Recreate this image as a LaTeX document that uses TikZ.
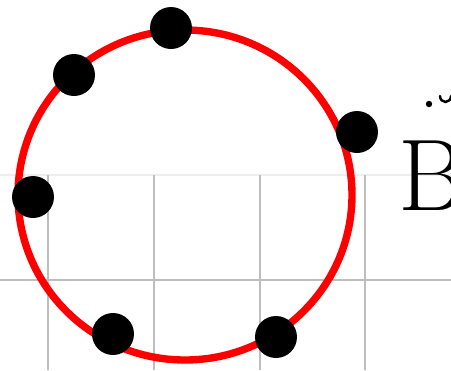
\documentclass[tikz,border=0pt]{standalone}
\usepackage{xcolor}
\definecolor{gridline}{RGB}{190,190,190}
\definecolor{gridfaint}{RGB}{238,238,238}
\definecolor{ring}{RGB}{255,0,0}
\usepackage{tikz}
\usetikzlibrary{positioning, calc}

\begin{document}
\begin{tikzpicture}[x=0.02cm, y=-0.02cm,
    pin/.style={circle, fill=black, inner sep=0pt, minimum size=0.84cm}]
        \useasboundingbox (0, 0) rectangle (451, 370);
        \clip (0, 0) rectangle (451, 370);

        % Grille
        \draw[gridfaint, line width=1.2pt] (0, 175) -- (451, 175);
        \draw[gridline, line width=1.2pt] (0, 280) -- (451, 280);
        \foreach \gx in {48, 154, 260, 365}
            \draw[gridline, line width=1.2pt] (\gx, 175) -- (\gx, 370);

        % Cercle
        \draw[ring, line width=4.2pt] (185, 195) ellipse (167 and 165);

        % Points
        \node[pin] (p1) at (171, 28) {};
        \node[pin] (p2) at (74, 75) {};
        \node[pin] (p3) at (357, 132) {};
        \node[pin] (p4) at (33, 197) {};
        \node[pin] (p5) at (113, 334) {};
        \node[pin] (p6) at (276, 337) {};

        % Label
        \node[anchor=base west, inner sep=0pt, font=\fontsize{58}{60}\selectfont] (lbl) at (398, 210) {B};
        \fill (429, 104) circle (3.2);
        \draw[line width=1.4pt, line cap=round] (440, 96) arc (180:0:5.5 and 6);
    \end{tikzpicture}
\end{document}
